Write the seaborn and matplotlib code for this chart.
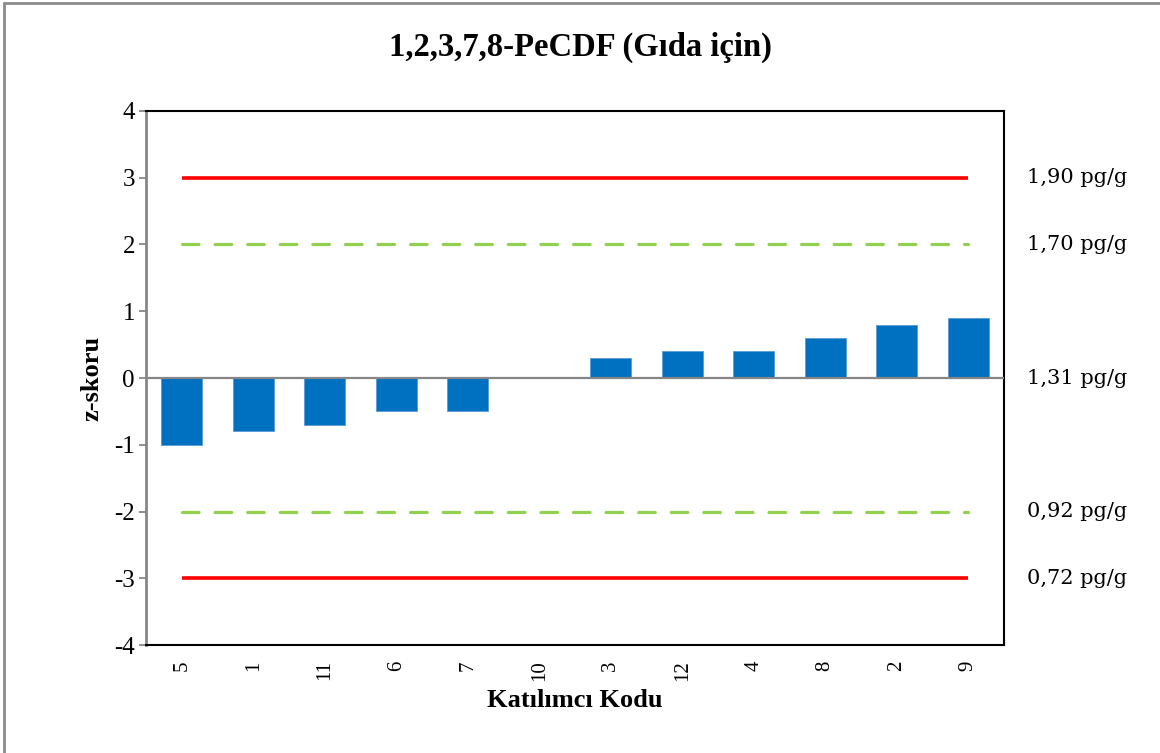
import matplotlib
matplotlib.use("Agg")
import matplotlib.pyplot as plt
import matplotlib.transforms as mtransforms
from matplotlib.lines import Line2D
import seaborn as sns
import pandas as pd

# Participant codes in plotted order and their z-scores
codes = ["5", "1", "11", "6", "7", "10", "3", "12", "4", "8", "2", "9"]
z_scores = [-1.0, -0.8, -0.7, -0.5, -0.5, 0.0, 0.3, 0.4, 0.4, 0.6, 0.8, 0.9]

# Limit lines (z) and the concentrations they correspond to
action_limits = [3, -3]
warning_limits = [2, -2]
ref_levels = [3, 2, 0, -2, -3]
ref_labels = ["1,90 pg/g", "1,70 pg/g", "1,31 pg/g", "0,92 pg/g", "0,72 pg/g"]

title = "1,2,3,7,8-PeCDF (Gıda için)"
x_label = "Katılımcı Kodu"
y_label = "z-skoru"
y_ticks = [-4, -3, -2, -1, 0, 1, 2, 3, 4]

df = pd.DataFrame({"kod": codes, "z": z_scores})

sns.set_theme(style="white")
plt.rcParams["font.family"] = ["Liberation Serif", "DejaVu Serif"]
plt.rcParams["text.color"] = "black"
plt.rcParams["axes.labelcolor"] = "black"
plt.rcParams["xtick.color"] = "black"
plt.rcParams["ytick.color"] = "black"

fig = plt.figure(figsize=(11.6, 7.53), dpi=100)
ax = fig.add_axes([0.1259, 0.1434, 0.7396, 0.7092])

sns.barplot(data=df, x="kod", y="z", order=codes, color="#0070C0",
            width=0.57, edgecolor="#5B9BD5", linewidth=0.6, saturation=1,
            ax=ax, zorder=3)

x0, x1 = 0, len(codes) - 1
for v in action_limits:
    ax.hlines(v, x0, x1, color="#FF0000", linewidth=2.6, zorder=4)
for v in warning_limits:
    ln = ax.hlines(v, x0, x1, color="#92D050", linewidth=2.3, zorder=4)
    ln.set_linestyle((0, (5.2, 5.0)))
    ln.set_capstyle("round")

# zero line
ax.axhline(0, color="#868686", linewidth=1.6, zorder=5)

ax.set_ylim(-4, 4)
ax.set_xlim(-0.5, len(codes) - 0.5)
ax.set_yticks(y_ticks)
ax.set_yticklabels([str(t) for t in y_ticks], fontsize=18)
ax.tick_params(axis="y", left=True, length=5, width=1.3, color="#868686",
               labelcolor="black", pad=3)
ax.tick_params(axis="x", bottom=False, pad=5, labelcolor="black")
ax.set_xticks(range(len(codes)))
ax.set_xticklabels(codes, rotation=90, fontsize=15)

for side in ["top", "right", "bottom"]:
    ax.spines[side].set_color("black")
    ax.spines[side].set_linewidth(1.5)
ax.spines["left"].set_color("#868686")
ax.spines["left"].set_linewidth(2.0)

ax.set_xlabel(x_label, fontsize=19, fontweight="bold", labelpad=6)
ax.set_ylabel(y_label, fontsize=19, fontweight="bold", labelpad=8)

trans = mtransforms.blended_transform_factory(ax.transAxes, ax.transData)
for v, lab in zip(ref_levels, ref_labels):
    ax.text(1.027, v, lab, transform=trans, ha="left", va="center",
            fontsize=15, family=["DejaVu Serif"], color="black")

fig.text(0.5, 0.937, title, ha="center", va="center", fontsize=23.5,
         fontweight="bold", color="black")

# figure frame (left and top edges)
fig.add_artist(Line2D([0.0034, 0.0034], [0, 0.996], transform=fig.transFigure,
                      color="#8C8C8C", linewidth=2))
fig.add_artist(Line2D([0.0034, 1], [0.996, 0.996], transform=fig.transFigure,
                      color="#8C8C8C", linewidth=2))

fig.savefig("out.png", dpi=100, facecolor="white")
